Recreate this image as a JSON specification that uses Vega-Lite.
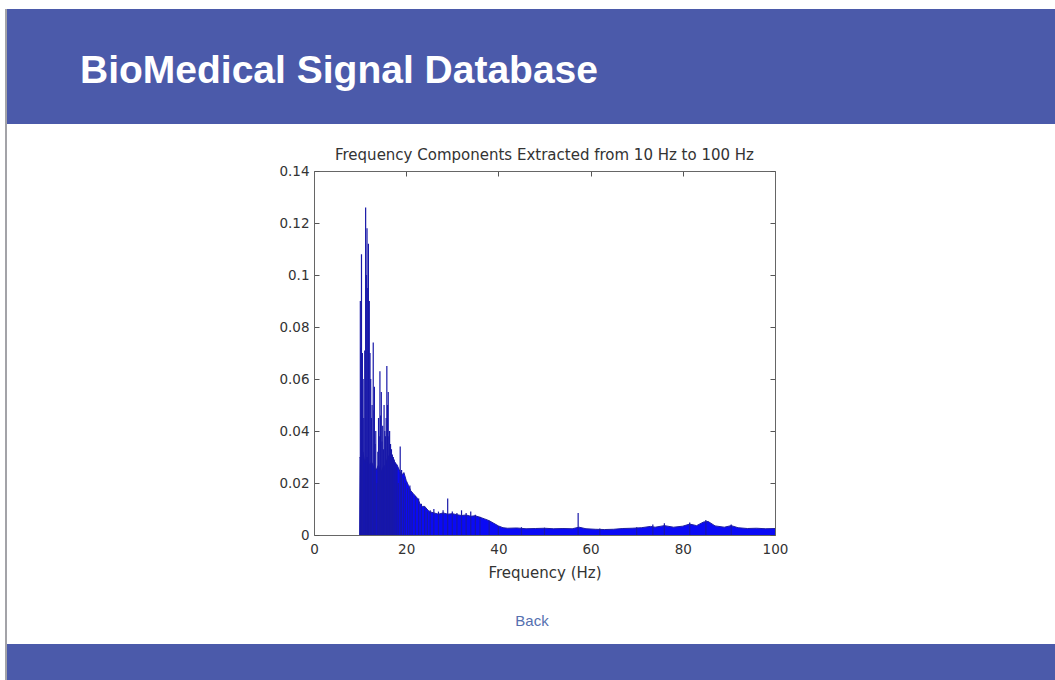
{
  "$schema": "https://vega.github.io/schema/vega-lite/v6.json",
  "background": "white",
  "padding": {"left": 5, "top": 9, "right": 0, "bottom": 0},
  "config": {"view": {"stroke": null}},
  "datasets": {
    "page": [{"site": "BioMedical Signal Database", "link": "Back"}],
    "blank": [{}],
    "envelope": [
      {"f": 9.9, "v": 0}, {"f": 10.0, "v": 0.03}, {"f": 10.3, "v": 0.028}, {"f": 10.6, "v": 0.032},
      {"f": 11.0, "v": 0.028}, {"f": 11.5, "v": 0.03}, {"f": 12.0, "v": 0.027}, {"f": 12.5, "v": 0.028},
      {"f": 13.0, "v": 0.026}, {"f": 13.5, "v": 0.025}, {"f": 14.0, "v": 0.027}, {"f": 14.5, "v": 0.024},
      {"f": 15.0, "v": 0.026}, {"f": 15.5, "v": 0.027}, {"f": 16.0, "v": 0.03}, {"f": 16.5, "v": 0.031},
      {"f": 17.0, "v": 0.03}, {"f": 17.5, "v": 0.028}, {"f": 18.0, "v": 0.027}, {"f": 18.5, "v": 0.025},
      {"f": 19.0, "v": 0.023}, {"f": 19.5, "v": 0.024}, {"f": 20.0, "v": 0.021}, {"f": 20.5, "v": 0.019},
      {"f": 21.0, "v": 0.017}, {"f": 21.5, "v": 0.016}, {"f": 22.0, "v": 0.015}, {"f": 22.5, "v": 0.014},
      {"f": 23.0, "v": 0.012}, {"f": 23.5, "v": 0.011}, {"f": 24.0, "v": 0.011}, {"f": 24.5, "v": 0.01},
      {"f": 25.0, "v": 0.009}, {"f": 26.0, "v": 0.0085}, {"f": 27.0, "v": 0.008}, {"f": 28.0, "v": 0.0085},
      {"f": 29.0, "v": 0.008}, {"f": 30.0, "v": 0.0082}, {"f": 31.0, "v": 0.0078}, {"f": 32.0, "v": 0.0075},
      {"f": 33.0, "v": 0.0077}, {"f": 34.0, "v": 0.0072}, {"f": 35.0, "v": 0.0074}, {"f": 36.0, "v": 0.0068},
      {"f": 37.0, "v": 0.0062}, {"f": 38.0, "v": 0.0055}, {"f": 39.0, "v": 0.0045}, {"f": 40.0, "v": 0.0035},
      {"f": 41.0, "v": 0.0028}, {"f": 42.0, "v": 0.0026}, {"f": 44.0, "v": 0.0027}, {"f": 46.0, "v": 0.0024},
      {"f": 48.0, "v": 0.0025}, {"f": 50.0, "v": 0.0026}, {"f": 52.0, "v": 0.0024}, {"f": 54.0, "v": 0.0025},
      {"f": 56.0, "v": 0.0024}, {"f": 57.5, "v": 0.003}, {"f": 59.0, "v": 0.0024}, {"f": 61.0, "v": 0.0022},
      {"f": 63.0, "v": 0.0021}, {"f": 65.0, "v": 0.0022}, {"f": 67.0, "v": 0.0025}, {"f": 69.0, "v": 0.0026},
      {"f": 71.0, "v": 0.0028}, {"f": 73.0, "v": 0.0033}, {"f": 74.0, "v": 0.003}, {"f": 76.0, "v": 0.0036},
      {"f": 78.0, "v": 0.003}, {"f": 80.0, "v": 0.0034}, {"f": 81.5, "v": 0.0042}, {"f": 83.0, "v": 0.0036},
      {"f": 84.5, "v": 0.005}, {"f": 85.5, "v": 0.0052}, {"f": 87.0, "v": 0.0035}, {"f": 89.0, "v": 0.003},
      {"f": 90.5, "v": 0.0036}, {"f": 92.0, "v": 0.0028}, {"f": 94.0, "v": 0.0025}, {"f": 96.0, "v": 0.0026},
      {"f": 98.0, "v": 0.0024}, {"f": 100.0, "v": 0.0025}
    ],
    "spikes": [
      {"f": 10.05, "lo": 0, "hi": 0.09}, {"f": 10.2, "lo": 0, "hi": 0.072}, {"f": 10.3, "lo": 0, "hi": 0.108},
      {"f": 10.5, "lo": 0, "hi": 0.07}, {"f": 10.65, "lo": 0, "hi": 0.06}, {"f": 10.8, "lo": 0, "hi": 0.045},
      {"f": 11.0, "lo": 0, "hi": 0.071}, {"f": 11.2, "lo": 0, "hi": 0.126}, {"f": 11.35, "lo": 0, "hi": 0.1},
      {"f": 11.5, "lo": 0, "hi": 0.118}, {"f": 11.65, "lo": 0, "hi": 0.095}, {"f": 11.8, "lo": 0, "hi": 0.112},
      {"f": 12.0, "lo": 0, "hi": 0.09}, {"f": 12.15, "lo": 0, "hi": 0.07}, {"f": 12.3, "lo": 0, "hi": 0.06},
      {"f": 12.45, "lo": 0, "hi": 0.045}, {"f": 12.6, "lo": 0, "hi": 0.05}, {"f": 12.85, "lo": 0, "hi": 0.074},
      {"f": 13.0, "lo": 0, "hi": 0.048}, {"f": 13.1, "lo": 0, "hi": 0.057}, {"f": 13.25, "lo": 0, "hi": 0.035},
      {"f": 13.4, "lo": 0, "hi": 0.04}, {"f": 13.7, "lo": 0, "hi": 0.02}, {"f": 13.85, "lo": 0, "hi": 0.032},
      {"f": 14.0, "lo": 0, "hi": 0.045}, {"f": 14.15, "lo": 0, "hi": 0.038}, {"f": 14.3, "lo": 0, "hi": 0.063},
      {"f": 14.45, "lo": 0, "hi": 0.046}, {"f": 14.6, "lo": 0, "hi": 0.055}, {"f": 14.75, "lo": 0, "hi": 0.036},
      {"f": 14.9, "lo": 0, "hi": 0.042}, {"f": 15.05, "lo": 0, "hi": 0.033}, {"f": 15.2, "lo": 0, "hi": 0.05},
      {"f": 15.35, "lo": 0, "hi": 0.04}, {"f": 15.5, "lo": 0, "hi": 0.038}, {"f": 15.65, "lo": 0, "hi": 0.045},
      {"f": 15.8, "lo": 0, "hi": 0.065}, {"f": 15.95, "lo": 0, "hi": 0.05}, {"f": 16.1, "lo": 0, "hi": 0.055},
      {"f": 16.25, "lo": 0, "hi": 0.038}, {"f": 16.4, "lo": 0, "hi": 0.04}, {"f": 16.6, "lo": 0, "hi": 0.035},
      {"f": 16.8, "lo": 0, "hi": 0.033}, {"f": 17.0, "lo": 0, "hi": 0.031}, {"f": 17.2, "lo": 0, "hi": 0.03},
      {"f": 17.4, "lo": 0, "hi": 0.029}, {"f": 17.6, "lo": 0, "hi": 0.028}, {"f": 17.8, "lo": 0, "hi": 0.027},
      {"f": 18.0, "lo": 0, "hi": 0.026}, {"f": 18.3, "lo": 0, "hi": 0.02}, {"f": 18.7, "lo": 0, "hi": 0.034},
      {"f": 19.0, "lo": 0, "hi": 0.025}, {"f": 19.4, "lo": 0, "hi": 0.022}, {"f": 19.8, "lo": 0, "hi": 0.02},
      {"f": 20.3, "lo": 0, "hi": 0.018}, {"f": 20.8, "lo": 0, "hi": 0.019}, {"f": 21.3, "lo": 0, "hi": 0.016},
      {"f": 22.0, "lo": 0, "hi": 0.015}, {"f": 22.7, "lo": 0, "hi": 0.014}, {"f": 23.3, "lo": 0, "hi": 0.012},
      {"f": 24.0, "lo": 0, "hi": 0.011}, {"f": 24.6, "lo": 0, "hi": 0.009}, {"f": 25.2, "lo": 0, "hi": 0.0095},
      {"f": 26.0, "lo": 0, "hi": 0.01}, {"f": 27.0, "lo": 0, "hi": 0.009}, {"f": 28.0, "lo": 0, "hi": 0.0095},
      {"f": 29.0, "lo": 0, "hi": 0.014}, {"f": 30.0, "lo": 0, "hi": 0.009}, {"f": 31.0, "lo": 0, "hi": 0.0085},
      {"f": 32.0, "lo": 0, "hi": 0.0095}, {"f": 33.0, "lo": 0, "hi": 0.0085}, {"f": 34.0, "lo": 0, "hi": 0.009},
      {"f": 35.0, "lo": 0, "hi": 0.0078}, {"f": 36.0, "lo": 0, "hi": 0.007}, {"f": 38.0, "lo": 0, "hi": 0.0055},
      {"f": 40.0, "lo": 0, "hi": 0.0035}, {"f": 45.0, "lo": 0, "hi": 0.003}, {"f": 50.0, "lo": 0, "hi": 0.0028},
      {"f": 57.3, "lo": 0, "hi": 0.0085}, {"f": 62.0, "lo": 0, "hi": 0.0025}, {"f": 70.0, "lo": 0, "hi": 0.003},
      {"f": 73.5, "lo": 0, "hi": 0.004}, {"f": 76.0, "lo": 0, "hi": 0.0045}, {"f": 81.5, "lo": 0, "hi": 0.0048},
      {"f": 85.0, "lo": 0, "hi": 0.0058}, {"f": 90.5, "lo": 0, "hi": 0.004}
    ]
  },
  "hconcat": [
    {
      "width": 2, "height": 671,
      "data": {"name": "blank"},
      "mark": {"type": "text", "text": ""},
      "view": {"fill": "#a3a3a8", "stroke": null}
    },
    {
      "vconcat": [
        {
          "width": 1048, "height": 115,
          "data": {"name": "page"},
          "mark": {"type": "text", "align": "left", "baseline": "alphabetic", "dx": -451, "dy": 16.5,
                   "font": "Liberation Sans", "fontSize": 39, "fontWeight": "bold", "color": "#ffffff"},
          "encoding": {"text": {"field": "site", "type": "nominal"}},
          "view": {"fill": "#4b5aaa", "stroke": null}
        },
        {
          "hconcat": [
            {
              "width": 271, "height": 520,
              "data": {"name": "blank"},
              "mark": {"type": "text", "text": ""},
              "view": {"fill": "#ffffff", "stroke": null}
            },
            {
              "vconcat": [
                {
                  "width": 461, "height": 47,
                  "data": {"name": "blank"},
                  "mark": {"type": "text", "text": ""},
                  "view": {"fill": "#ffffff", "stroke": null}
                },
                {
                  "width": 461, "height": 364,
                  "title": {"text": "Frequency Components Extracted from 10 Hz to 100 Hz", "font": "DejaVu Sans",
                            "fontSize": 15, "fontWeight": "normal", "color": "#333333", "offset": 1},
                  "layer": [
                    {
                      "data": {"name": "envelope"},
                      "mark": {"type": "area", "color": "#0a0af5", "opacity": 1, "line": {"color": "#1f1fa0", "strokeWidth": 1}},
                      "encoding": {
                        "x": {"field": "f", "type": "quantitative", "scale": {"domain": [0, 100], "nice": false},
                              "axis": {"orient": "bottom", "values": [0, 20, 40, 60, 80, 100], "tickSize": -5,
                                       "tickColor": "#555555", "domainColor": "#666666", "grid": false,
                                       "labelFont": "DejaVu Sans", "labelFontSize": 13.5, "labelColor": "#333333",
                                       "labelPadding": 12, "labelFlush": false,
                                       "title": "Frequency (Hz)", "titleFont": "DejaVu Sans", "titleFontSize": 15,
                                       "titleFontWeight": "normal", "titleColor": "#333333", "titlePadding": 10}},
                        "y": {"field": "v", "type": "quantitative", "scale": {"domain": [0, 0.14], "nice": false},
                              "axis": {"orient": "left", "values": [0, 0.02, 0.04, 0.06, 0.08, 0.1, 0.12, 0.14],
                                       "format": "~g", "tickSize": -5, "tickColor": "#555555", "domainColor": "#666666",
                                       "grid": false, "labelFont": "DejaVu Sans", "labelFontSize": 13.5,
                                       "labelColor": "#333333", "labelPadding": 10, "labelFlush": false, "title": null}}
                      }
                    },
                    {
                      "data": {"name": "spikes"},
                      "mark": {"type": "rule", "color": "#1818a8", "strokeWidth": 1.2},
                      "encoding": {
                        "x": {"field": "f", "type": "quantitative",
                              "axis": {"orient": "top", "values": [0, 20, 40, 60, 80, 100], "tickSize": -5,
                                       "tickColor": "#555555", "domainColor": "#666666", "grid": false,
                                       "labels": false, "title": null}},
                        "y": {"field": "lo", "type": "quantitative",
                              "axis": {"orient": "right", "values": [0, 0.02, 0.04, 0.06, 0.08, 0.1, 0.12, 0.14],
                                       "tickSize": -5, "tickColor": "#555555", "domainColor": "#666666",
                                       "grid": false, "labels": false, "title": null}},
                        "y2": {"field": "hi"}
                      }
                    }
                  ],
                  "resolve": {"axis": {"x": "independent", "y": "independent"}}
                },
                {
                  "width": 461, "height": 109,
                  "data": {"name": "page"},
                  "mark": {"type": "text", "align": "center", "baseline": "alphabetic", "dx": -12.5, "dy": 36.5,
                           "font": "Liberation Sans", "fontSize": 15, "color": "#5570b0"},
                  "encoding": {"text": {"field": "link", "type": "nominal"}}
                }
              ],
              "spacing": 0,
              "bounds": "flush"
            }
          ],
          "spacing": 0,
          "bounds": "full"
        },
        {
          "width": 1048, "height": 36,
          "data": {"name": "blank"},
          "mark": {"type": "text", "text": ""},
          "view": {"fill": "#4b5aaa", "stroke": null}
        }
      ],
      "spacing": 0,
      "bounds": "full"
    }
  ],
  "spacing": 0,
  "bounds": "full"
}
